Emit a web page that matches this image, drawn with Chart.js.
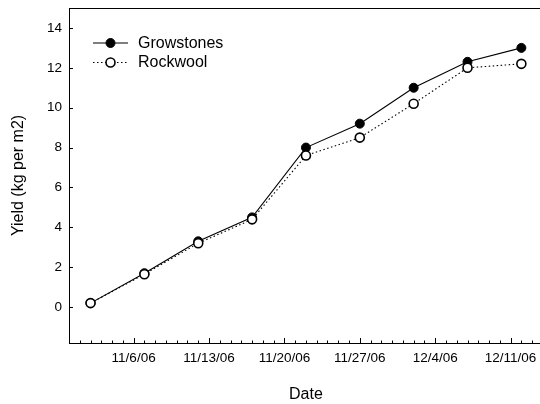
<!DOCTYPE html>
<html><head><meta charset="utf-8">
<script src="https://cdn.jsdelivr.net/npm/chart.js@4.4.1/dist/chart.umd.min.js"></script>
<style>
html,body{margin:0;padding:0;background:#fff;overflow:hidden;width:540px;height:404px;}
#wrap{width:549px;height:404px;position:relative;}
</style></head><body>
<div id="wrap"><canvas id="c"></canvas></div>
<script>
const dates = ['11/2/06','11/7/06','11/12/06','11/17/06','11/22/06','11/27/06','12/2/06','12/7/06','12/12/06'];
const growstones = [0.2, 1.7, 3.3, 4.5, 8.0, 9.2, 11.0, 12.3, 13.0];
const rockwool = [0.2, 1.65, 3.2, 4.4, 7.6, 8.5, 10.2, 12.0, 12.2];
const xTickLabels = ['11/6/06','11/13/06','11/20/06','11/27/06','12/4/06','12/11/06'];
const yTicks = [0, 2, 4, 6, 8, 10, 12, 14];
const xRange = ['10/31/06', '12/14/06'];
const yRange = [-1.8, 15];
const seriesNames = ['Growstones', 'Rockwool'];

function dayNum(s){ const p = s.split('/').map(Number); return Math.round(Date.UTC(2000+p[2], p[0]-1, p[1]) / 86400000); }
const tickMap = {}; xTickLabels.forEach(s => tickMap[dayNum(s)] = s);
const FONT = 'Arial, "Liberation Sans", sans-serif';

const decor = {
  id: 'decor',
  afterDraw(chart){
    const {ctx, chartArea: a, scales: {x, y}} = chart;
    ctx.save();
    ctx.strokeStyle = '#000'; ctx.lineWidth = 1;
    // top frame line
    ctx.beginPath(); ctx.moveTo(a.left, Math.round(a.top)+0.5); ctx.lineTo(a.right, Math.round(a.top)+0.5); ctx.stroke();
    // x ticks (inward), minor every day
    for (let d = Math.ceil(x.min); d <= x.max; d++) {
      const px = Math.round(x.getPixelForValue(d)) + 0.5;
      const major = tickMap[d] !== undefined;
      ctx.beginPath(); ctx.moveTo(px, a.bottom); ctx.lineTo(px, a.bottom - (major ? 5 : 2.5)); ctx.stroke();
    }
    yTicks.forEach(v => {
      const py = Math.round(y.getPixelForValue(v)) + 0.5;
      ctx.beginPath(); ctx.moveTo(a.left, py); ctx.lineTo(a.left + 4, py); ctx.stroke();
    });
    // legend
    const rows = [43, 62.5];
    chart.data.datasets.slice().sort((p, q) => seriesNames.indexOf(p.label) - seriesNames.indexOf(q.label)).forEach((ds, i) => {
      const yy = rows[i];
      ctx.save();
      ctx.strokeStyle = ds.borderColor; ctx.lineWidth = ds.borderWidth;
      ctx.setLineDash(ds.borderDash || []);
      ctx.beginPath(); ctx.moveTo(93, yy); ctx.lineTo(128, yy); ctx.stroke();
      ctx.setLineDash([]);
      ctx.beginPath(); ctx.arc(110.5, yy, ds.pointRadius, 0, Math.PI*2);
      ctx.fillStyle = ds.pointBackgroundColor; ctx.fill();
      ctx.lineWidth = ds.pointBorderWidth; ctx.strokeStyle = ds.pointBorderColor; ctx.stroke();
      ctx.restore();
      ctx.fillStyle = '#000'; ctx.font = '16px ' + FONT; ctx.textBaseline = 'middle'; ctx.textAlign = 'left';
      ctx.fillText(ds.label, 138, yy + 0.5);
    });
    ctx.restore();
  }
};

new Chart(document.getElementById('c'), {
  type: 'line',
  data: {
    datasets: [
      {
        label: seriesNames[1],
        data: dates.map((d, i) => ({x: dayNum(d), y: rockwool[i]})),
        borderColor: '#000', borderWidth: 1.1, borderDash: [1.5, 2.5],
        pointRadius: 4.5, pointBackgroundColor: '#fff', pointBorderColor: '#000', pointBorderWidth: 1.6,
        tension: 0, order: 0
      },
      {
        label: seriesNames[0],
        data: dates.map((d, i) => ({x: dayNum(d), y: growstones[i]})),
        borderColor: '#000', borderWidth: 1.1,
        pointRadius: 4.5, pointBackgroundColor: '#000', pointBorderColor: '#000', pointBorderWidth: 1,
        tension: 0, order: 1
      }
    ]
  },
  options: {
    responsive: true, maintainAspectRatio: false, animation: false,
    layout: {padding: {top: 8, left: 0, right: 0, bottom: 0}},
    plugins: {legend: {display: false}, tooltip: {enabled: false}},
    scales: {
      x: {
        type: 'linear', min: dayNum(xRange[0]), max: dayNum(xRange[1]),
        grid: {display: false, drawTicks: false},
        border: {display: true, color: '#000', width: 1},
        afterBuildTicks: s => { s.ticks = xTickLabels.map(t => ({value: dayNum(t)})); },
        afterFit: s => { s.height = 61; s.paddingLeft = 0; s.paddingRight = 0; },
        ticks: {autoSkip: false, maxRotation: 0, padding: 7, color: '#000', font: {family: FONT, size: 13.5},
          callback: v => tickMap[Math.round(v)] || ''},
        title: {display: true, text: 'Date', color: '#000', font: {family: FONT, size: 16}, padding: {top: 0, bottom: 0}}
      },
      y: {
        min: yRange[0], max: yRange[1],
        grid: {display: false, drawTicks: false},
        border: {display: true, color: '#000', width: 1},
        afterBuildTicks: s => { s.ticks = yTicks.map(v => ({value: v})); },
        afterFit: s => { s.width = 69; s.paddingTop = 0; s.paddingBottom = 0; },
        ticks: {padding: 7, color: '#000', font: {family: FONT, size: 13.5}},
        title: {display: true, text: 'Yield (kg per m2)', color: '#000', font: {family: FONT, size: 16}, padding: {top: 9, bottom: 0}}
      }
    }
  },
  plugins: [decor]
});
</script>
</body></html>
